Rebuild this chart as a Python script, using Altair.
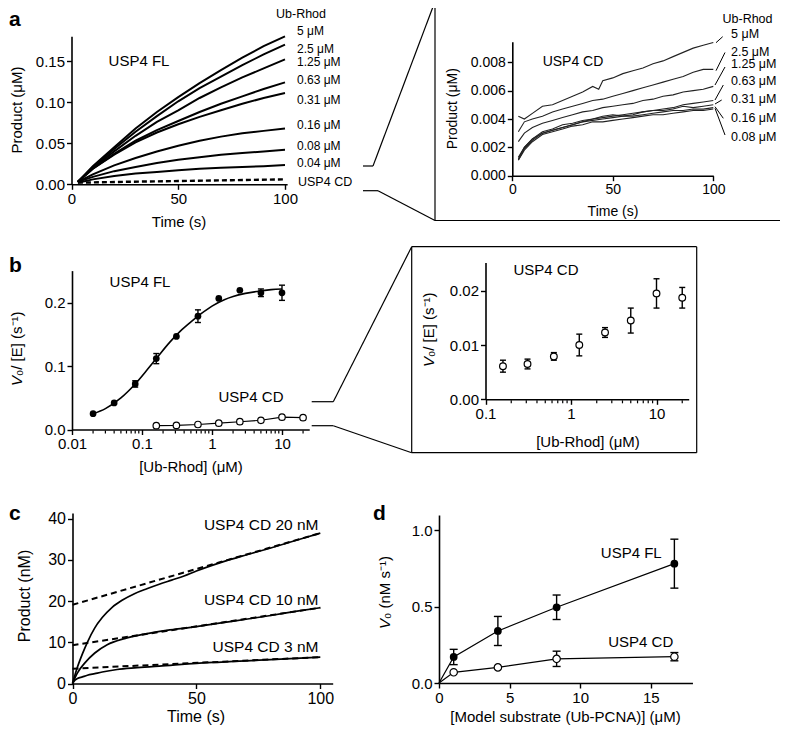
import altair as alt
import pandas as pd

W, H = 772, 717
M = 8
FONT = "Liberation Sans"


def X(p):
    return p - M


def Y(p):
    return p - M


# ---------------- data ----------------
# panel a, USP4 FL progress curves
a_time = [3, 10, 20, 30, 40, 50, 60, 70, 80, 90, 100]
a_conc = ["5 μM", "2.5 μM", "1.25 μM", "0.63 μM", "0.31 μM", "0.16 μM", "0.08 μM", "0.04 μM"]
a_fl = [
    [0.003, 0.022, 0.045, 0.068, 0.088, 0.106, 0.123, 0.139, 0.154, 0.168, 0.180],
    [0.003, 0.021, 0.043, 0.064, 0.083, 0.101, 0.117, 0.131, 0.145, 0.158, 0.170],
    [0.003, 0.020, 0.040, 0.059, 0.076, 0.090, 0.105, 0.118, 0.130, 0.141, 0.152],
    [0.003, 0.019, 0.037, 0.053, 0.066, 0.077, 0.088, 0.098, 0.107, 0.116, 0.124],
    [0.003, 0.019, 0.036, 0.051, 0.063, 0.073, 0.082, 0.090, 0.098, 0.105, 0.111],
    [0.003, 0.012, 0.023, 0.032, 0.040, 0.047, 0.053, 0.058, 0.062, 0.065, 0.068],
    [0.003, 0.009, 0.016, 0.021, 0.026, 0.030, 0.033, 0.036, 0.038, 0.040, 0.042],
    [0.002, 0.006, 0.010, 0.013, 0.015, 0.017, 0.019, 0.020, 0.021, 0.022, 0.0235],
]
a_cd_time = [3, 25, 50, 75, 100]
a_cd = [0.002, 0.003, 0.004, 0.005, 0.006]

# panel a inset, USP4 CD progress curves
ai_conc = ["5 μM", "2.5 μM", "1.25 μM", "0.63 μM", "0.31 μM", "0.16 μM", "0.08 μM"]
ai_t5 = [3, 6, 10, 15, 20, 25, 30, 35, 40, 43, 45, 50, 55, 60, 65, 70, 75, 80, 85, 90, 95, 100]
ai_v5 = [0.0042, 0.0040, 0.0044, 0.0049, 0.0050, 0.0053, 0.0056, 0.0059, 0.0063, 0.0061, 0.0067,
         0.0069, 0.0072, 0.0074, 0.0076, 0.0079, 0.0081, 0.0084, 0.0087, 0.0090, 0.0092, 0.0094]
ai_t = [3, 6, 10, 15, 20, 25, 30, 35, 40, 45, 50, 55, 60, 65, 70, 75, 80, 85, 90, 95, 100]
ai_rest = [
    [0.0031, 0.0038, 0.0040, 0.0042, 0.0045, 0.0047, 0.0049, 0.0051, 0.0053, 0.0054, 0.0056,
     0.0058, 0.0060, 0.0062, 0.0064, 0.0066, 0.0068, 0.0070, 0.0073, 0.0075, 0.0075],
    [0.0024, 0.0030, 0.0034, 0.0037, 0.0039, 0.0041, 0.0043, 0.0045, 0.0046, 0.0048, 0.0049,
     0.0050, 0.0051, 0.0053, 0.0054, 0.0056, 0.0057, 0.0059, 0.0060, 0.0061, 0.0063],
    [0.0013, 0.0020, 0.0026, 0.0030, 0.0032, 0.0034, 0.0036, 0.0038, 0.0040, 0.0041, 0.0042,
     0.0043, 0.0044, 0.0045, 0.0046, 0.0047, 0.0048, 0.0050, 0.0051, 0.0052, 0.0053],
    [0.0012, 0.0020, 0.0026, 0.0031, 0.0033, 0.0036, 0.0037, 0.0039, 0.0040, 0.0042, 0.0043,
     0.0042, 0.0043, 0.0045, 0.0046, 0.0046, 0.0047, 0.0049, 0.0048, 0.0049, 0.0050],
    [0.0011, 0.0019, 0.0025, 0.0030, 0.0032, 0.0034, 0.0036, 0.0038, 0.0039, 0.0040, 0.0041,
     0.0042, 0.0042, 0.0043, 0.0044, 0.0045, 0.0046, 0.0046, 0.0047, 0.0047, 0.0048],
    [0.0011, 0.0018, 0.0024, 0.0029, 0.0031, 0.0033, 0.0035, 0.0036, 0.0038, 0.0038, 0.0039,
     0.0040, 0.0041, 0.0042, 0.0043, 0.0043, 0.0044, 0.0045, 0.0046, 0.0046, 0.0047],
]

# panel b
b_fl_x = [0.02, 0.04, 0.08, 0.16, 0.31, 0.63, 1.25, 2.5, 5, 10]
b_fl_v = [0.025, 0.042, 0.072, 0.112, 0.147, 0.179, 0.207, 0.220, 0.216, 0.216]
b_fl_e = [0, 0, 0.005, 0.008, 0, 0.010, 0, 0, 0.006, 0.012]
b_fit_x = [0.02, 0.03, 0.05, 0.08, 0.12, 0.16, 0.25, 0.35, 0.5, 0.7, 1, 1.5, 2, 3, 5, 7, 10]
b_fit_v = [0.025, 0.033, 0.050, 0.072, 0.095, 0.112, 0.138, 0.155, 0.170, 0.183, 0.195,
           0.205, 0.210, 0.215, 0.219, 0.221, 0.222]
b_cd_x = [0.16, 0.31, 0.63, 1.25, 2.5, 5, 10, 20]
b_cd_v = [0.0061, 0.0065, 0.0079, 0.0100, 0.0123, 0.0145, 0.0195, 0.0187]
b_cd_e = [0.0011, 0.0009, 0.0007, 0.0020, 0.0009, 0.0023, 0.0027, 0.0019]
b_minor = [0.02, 0.03, 0.04, 0.05, 0.06, 0.07, 0.08, 0.09, 0.2, 0.3, 0.4, 0.5, 0.6, 0.7,
           0.8, 0.9, 2, 3, 4, 5, 6, 7, 8, 9, 20]
bi_minor = [0.2, 0.3, 0.4, 0.5, 0.6, 0.7, 0.8, 0.9, 2, 3, 4, 5, 6, 7, 8, 9, 20]

# panel c
c_labels = ["USP4 CD 20 nM", "USP4 CD 10 nM", "USP4 CD 3 nM"]
c_t20 = [0, 2, 4, 6, 9, 12, 16, 20, 25, 30, 35, 40, 45, 50, 60, 70, 80, 90, 100]
c_v20 = [0, 4.0, 7.2, 10.0, 13.5, 16.0, 18.5, 20.2, 21.8, 23.0, 24.1, 25.1, 26.1, 27.3,
         29.4, 31.2, 32.9, 34.7, 36.5]
c_t10 = [0, 2, 5, 9, 14, 21, 29, 38, 50, 60, 70, 80, 90, 100]
c_v10 = [0, 2.6, 5.0, 7.4, 9.4, 10.9, 12.0, 12.9, 13.8, 14.7, 15.6, 16.5, 17.5, 18.4]
c_t3 = [0, 1, 2, 4, 6, 9, 12, 18, 25, 35, 50, 60, 70, 80, 90, 100]
c_v3 = [0, 0.8, 1.2, 1.6, 2.0, 2.4, 2.8, 3.4, 3.8, 4.2, 4.9, 5.2, 5.5, 5.8, 6.1, 6.4]
c_fit_t = [0, 100]
c_fit20 = [19.1, 36.5]
c_fit10 = [9.3, 18.4]
c_fit3 = [3.6, 6.4]

# panel d
d_x = [1.04, 4.17, 8.33, 16.67]
d_fl = [0.17, 0.34, 0.495, 0.78]
d_fl_e = [0.05, 0.095, 0.08, 0.16]
d_cd = [0.07, 0.102, 0.158, 0.172]
d_cd_e = [0, 0, 0.05, 0.027]

# ---------------- helpers ----------------
AXS = dict(grid=False, domainColor="black", domainWidth=1.6, tickColor="black",
           tickWidth=1.4, tickSize=5, labelColor="black", labelFont=FONT,
           labelPadding=2, labelFlush=False, labelOverlap=False)


def xaxis(vals, fmt, ypix, size=15):
    return alt.Axis(orient="bottom", offset=Y(ypix) - H, values=vals, format=fmt,
                    labelFontSize=size, **AXS)


def yaxis(vals, fmt, xpix, size=15):
    return alt.Axis(orient="left", offset=-X(xpix), values=vals, format=fmt,
                    labelFontSize=size, **AXS)


def sc(domain, r0, r1, typ="linear"):
    return alt.Scale(type=typ, domain=domain, range=[r0, r1], nice=False, zero=False)


def XQ(f, s, a):
    return alt.X(f, type="quantitative", scale=s, axis=a, title=None)


def YQ(f, s, a):
    return alt.Y(f, type="quantitative", scale=s, axis=a, title=None)


DUMMY = pd.DataFrame({"k": [0]})


def txt(s, x, y, size=15, align="center", angle=0, weight="normal", style="normal"):
    return alt.Chart(pd.DataFrame({"t": [s]})).mark_text(
        font=FONT, fontSize=size, align=align, baseline="middle", angle=angle,
        fontWeight=weight, fontStyle=style, color="black"
    ).encode(x=alt.value(X(x)), y=alt.value(Y(y)), text="t:N")


def seg(x1, y1, x2, y2, w=1.2):
    return alt.Chart(DUMMY).mark_rule(color="black", strokeWidth=w).encode(
        x=alt.value(X(x1)), y=alt.value(Y(y1)), x2=alt.value(X(x2)), y2=alt.value(Y(y2)))


def errbars(df, xs, ys, xa, ya, cap=7):
    d = df[df["e"] > 0].copy()
    d["lo"] = d["v"] - d["e"]
    d["hi"] = d["v"] + d["e"]
    bar = alt.Chart(d).mark_rule(color="black", strokeWidth=1.4).encode(
        x=XQ("x", xs, xa), y=YQ("lo", ys, ya), y2="hi")
    c1 = alt.Chart(d).mark_tick(orient="horizontal", color="black", size=cap,
                                thickness=1.4, opacity=1).encode(
        x=XQ("x", xs, xa), y=YQ("hi", ys, ya))
    c2 = alt.Chart(d).mark_tick(orient="horizontal", color="black", size=cap,
                                thickness=1.4, opacity=1).encode(
        x=XQ("x", xs, xa), y=YQ("lo", ys, ya))
    return [bar, c1, c2]


def filled(df, xs, ys, xa, ya, size=45):
    return alt.Chart(df).mark_circle(color="black", size=size, opacity=1).encode(
        x=XQ("x", xs, xa), y=YQ("v", ys, ya))


def hollow(df, xs, ys, xa, ya, size=45):
    return alt.Chart(df).mark_point(shape="circle", filled=True, fill="white", stroke="black",
                                    strokeWidth=1.2, size=size, opacity=1).encode(
        x=XQ("x", xs, xa), y=YQ("v", ys, ya))


def minor_ticks(vals, xs, xa, ypix):
    return alt.Chart(pd.DataFrame({"m": vals})).mark_rule(color="black", strokeWidth=1.2).encode(
        x=XQ("m", xs, xa), y=alt.value(Y(ypix)), y2=alt.value(Y(ypix + 3)))


# ---------------- panel a ----------------
xsA = sc([0, 101], X(71.5), X(71.5 + 101 * 2.135))
ysA = sc([0, 0.18], Y(184.3), Y(184.3 - 0.18 * 822))
xaA = xaxis([0, 50, 100], "d", 184.3)
yaA = yaxis([0, 0.05, 0.1, 0.15], ".2f", 71.5)
dfA = pd.DataFrame([{"t": t, "v": v, "s": c} for c, vs in zip(a_conc, a_fl)
                    for t, v in zip(a_time, vs)])
dfAcd = pd.DataFrame({"t": a_cd_time, "v": a_cd})
panelA = alt.layer(
    alt.Chart(dfA).mark_line(color="black", strokeWidth=2).encode(
        x=XQ("t", xsA, xaA), y=YQ("v", ysA, yaA), detail="s:N"),
    alt.Chart(dfAcd).mark_line(color="black", strokeWidth=2.4, strokeDash=[5, 3]).encode(
        x=XQ("t", xsA, xaA), y=YQ("v", ysA, yaA)),
)

# ---------------- panel a inset ----------------
xsAi = sc([0, 100], X(512.3), X(713.3))
ysAi = sc([0, 0.00945], Y(175.7), Y(175.7 - 0.00945 * 14175))
xaAi = xaxis([0, 50, 100], "d", 175.7, 14)
yaAi = yaxis([0, 0.002, 0.004, 0.006, 0.008], ".3f", 512.3, 14)
rowsAi = [{"t": t, "v": v, "s": ai_conc[0]} for t, v in zip(ai_t5, ai_v5)]
for c, vs in zip(ai_conc[1:], ai_rest):
    rowsAi += [{"t": t, "v": v, "s": c} for t, v in zip(ai_t, vs)]
panelAi = alt.Chart(pd.DataFrame(rowsAi)).mark_line(color="#222222", strokeWidth=1.1).encode(
    x=XQ("t", xsAi, xaAi), y=YQ("v", ysAi, yaAi), detail="s:N")

# ---------------- panel b ----------------
xsB = sc([0.01, 24.5], X(72), X(72 + 70 * 3.389), "log")
ysB = sc([0, 0.251], Y(429.5), Y(429.5 - 0.251 * 633))
xaB = xaxis([0.01, 0.1, 1, 10], "~g", 429.5)
yaB = yaxis([0, 0.1, 0.2], ".1f", 72)
dfBfl = pd.DataFrame({"x": b_fl_x, "v": b_fl_v, "e": b_fl_e})
dfBfit = pd.DataFrame({"x": b_fit_x, "v": b_fit_v})
dfBcd = pd.DataFrame({"x": b_cd_x, "v": b_cd_v, "e": b_cd_e})
panelB = alt.layer(
    alt.Chart(dfBfit).mark_line(color="black", strokeWidth=1.6, interpolate="monotone").encode(
        x=XQ("x", xsB, xaB), y=YQ("v", ysB, yaB)),
    *errbars(dfBfl, xsB, ysB, xaB, yaB, 6),
    filled(dfBfl, xsB, ysB, xaB, yaB, 45),
    alt.Chart(dfBcd).mark_line(color="black", strokeWidth=1.1).encode(
        x=XQ("x", xsB, xaB), y=YQ("v", ysB, yaB)),
    hollow(dfBcd, xsB, ysB, xaB, yaB, 42),
    minor_ticks(b_minor, xsB, xaB, 430.5),
)

# ---------------- panel b inset ----------------
xsBi = sc([0.1, 23.8], X(485.5), X(688.7), "log")
ysBi = sc([0, 0.0252], Y(399.3), Y(399.3 - 0.0252 * 5430))
xaBi = xaxis([0.1, 1, 10], "~g", 399.3)
yaBi = yaxis([0, 0.01, 0.02], ".2f", 485.5)
panelBi = alt.layer(
    *errbars(dfBcd, xsBi, ysBi, xaBi, yaBi, 6),
    hollow(dfBcd, xsBi, ysBi, xaBi, yaBi, 45),
    minor_ticks(bi_minor, xsBi, xaBi, 400.3),
)

# ---------------- panel c ----------------
xsC = sc([0, 105], X(72.5), X(72.5 + 105 * 2.478))
ysC = sc([0, 41.4], Y(683.5), Y(683.5 - 41.4 * 4.12))
xaC = xaxis([0, 50, 100], "d", 683.5, 16)
yaC = yaxis([0, 10, 20, 30, 40], "d", 72.5, 16)
dfCs = pd.DataFrame(
    [{"t": t, "v": v, "s": "20"} for t, v in zip(c_t20, c_v20)]
    + [{"t": t, "v": v, "s": "10"} for t, v in zip(c_t10, c_v10)]
    + [{"t": t, "v": v, "s": "3"} for t, v in zip(c_t3, c_v3)])
dfCd = pd.DataFrame(
    [{"t": t, "v": v, "s": "20"} for t, v in zip(c_fit_t, c_fit20)]
    + [{"t": t, "v": v, "s": "10"} for t, v in zip(c_fit_t, c_fit10)]
    + [{"t": t, "v": v, "s": "3"} for t, v in zip(c_fit_t, c_fit3)])
panelC = alt.layer(
    alt.Chart(dfCs).mark_line(color="black", strokeWidth=1.7, interpolate="monotone").encode(
        x=XQ("t", xsC, xaC), y=YQ("v", ysC, yaC), detail="s:N"),
    alt.Chart(dfCd).mark_line(color="black", strokeWidth=2, strokeDash=[6, 4]).encode(
        x=XQ("t", xsC, xaC), y=YQ("v", ysC, yaC), detail="s:N"),
)

# ---------------- panel d ----------------
xsD = sc([0, 17.95], X(439), X(439 + 17.95 * 14.12))
ysD = sc([0, 1.098], Y(683), Y(683 - 1.098 * 153))
xaD = xaxis([0, 5, 10, 15], "d", 683)
yaD = yaxis([0, 0.5, 1.0], ".1f", 439)
dfDfl = pd.DataFrame({"x": d_x, "v": d_fl, "e": d_fl_e})
dfDcd = pd.DataFrame({"x": d_x, "v": d_cd, "e": d_cd_e})
dfDline = pd.DataFrame(
    [{"x": 0, "v": 0, "s": "FL"}] + [{"x": x, "v": v, "s": "FL"} for x, v in zip(d_x, d_fl)]
    + [{"x": 0, "v": 0, "s": "CD"}] + [{"x": x, "v": v, "s": "CD"} for x, v in zip(d_x, d_cd)])
panelD = alt.layer(
    alt.Chart(dfDline).mark_line(color="black", strokeWidth=1.2).encode(
        x=XQ("x", xsD, xaD), y=YQ("v", ysD, yaD), detail="s:N"),
    *errbars(dfDfl, xsD, ysD, xaD, yaD, 8),
    *errbars(dfDcd, xsD, ysD, xaD, yaD, 8),
    filled(dfDfl, xsD, ysD, xaD, yaD, 60),
    hollow(dfDcd, xsD, ysD, xaD, yaD, 55),
)

# ---------------- annotations ----------------
ann = []
# panel letters
for s, x, y in [("a", 9, 20), ("b", 9, 266), ("c", 9, 514), ("d", 373, 514)]:
    ann.append(txt(s, x, y, 21, "left", weight="bold"))

# panel a
ann.append(txt("USP4 FL", 139, 61))
ann.append(txt("Ub-Rhod", 301, 13.5, 12.5))
for lab, y in zip(a_conc, [30.7, 49.3, 62.3, 80, 100, 125, 145.7, 162.7]):
    ann.append(txt(lab, 297, y, 12, "left"))
ann.append(txt("USP4 CD", 298, 181.7, 12.5, "left"))
ann.append(txt("Time (s)", 179, 222))
ann.append(txt("Product (μM)", 16.5, 110, 15, angle=270))
# connectors a
ann += [seg(363, 166, 373, 166), seg(373, 166, 435, 1.5),
        seg(363, 190.7, 378, 190.7), seg(378, 190.7, 435, 220.5)]
# inset a box
ann += [seg(435, 1.5, 786.5, 1.5), seg(786.5, 1.5, 786.5, 220.5),
        seg(786.5, 220.5, 435, 220.5), seg(435, 220.5, 435, 1.5)]
ann.append(txt("USP4 CD", 573, 62, 14))
ann.append(txt("Ub-Rhod", 747.5, 19, 12.5))
for lab, y in zip(ai_conc, [34.3, 51.7, 64.3, 80.7, 99.3, 118.3, 136.7]):
    ann.append(txt(lab, 731, y, 12.5, "left"))
for x1, y1, x2, y2 in [(716, 42.7, 722.7, 36.7), (716, 70.7, 725, 52.5), (715, 85, 725, 67),
                       (715, 100, 723.3, 85), (715, 104, 721.7, 100),
                       (715, 106.7, 723.3, 118.3), (715, 108.3, 725, 135)]:
    ann.append(seg(x1, y1, x2, y2, 1))
ann.append(txt("Time (s)", 613, 211.5, 14))
ann.append(txt("Product (μM)", 452.5, 108.7, 14, angle=270))

# panel b
ann.append(txt("USP4 FL", 140, 281.7))
ann.append(txt("USP4 CD", 251, 396.7))
ann.append(txt("[Ub-Rhod] (μM)", 191, 467))
ann.append(txt("V", 17, 386, 15, "left", angle=270, style="italic"))
ann.append(txt("₀/ [E] (s⁻¹)", 17, 376, 15, "left", angle=270))
ann += [seg(311.7, 401.7, 333.3, 401.7), seg(333.3, 401.7, 411.7, 246.7),
        seg(311.7, 425.7, 333.3, 425.7), seg(333.3, 425.7, 411.7, 452.7)]
ann += [seg(411.7, 246.7, 696.7, 246.7), seg(696.7, 246.7, 696.7, 452.7),
        seg(696.7, 452.7, 411.7, 452.7), seg(411.7, 452.7, 411.7, 246.7)]
ann.append(txt("USP4 CD", 546, 270))
ann.append(txt("[Ub-Rhod] (μM)", 588, 441.7))
ann.append(txt("V", 429, 367, 15, "left", angle=270, style="italic"))
ann.append(txt("₀/ [E] (s⁻¹)", 429, 357, 15, "left", angle=270))

# panel c
for lab, y in zip(c_labels, [525, 600, 646.7]):
    ann.append(txt(lab, 318.5, y, 15.5, "right"))
ann.append(txt("Time (s)", 196, 717, 16))
ann.append(txt("Product (nM)", 25, 596, 16, angle=270))

# panel d
ann.append(txt("USP4 FL", 661.7, 553.3, 15, "right"))
ann.append(txt("USP4 CD", 673.3, 641.7, 15, "right"))
ann.append(txt("[Model substrate (Ub-PCNA)] (μM)", 565.5, 717))
ann.append(txt("V", 385, 629, 15, "left", angle=270, style="italic"))
ann.append(txt("₀ (nM s⁻¹)", 385, 619, 15, "left", angle=270))

chart = alt.layer(panelA, panelAi, panelB, panelBi, panelC, panelD, *ann).resolve_scale(
    x="independent", y="independent"
).properties(
    width=W, height=H, autosize=alt.AutoSizeParams(type="none"), padding=0
).configure_view(strokeWidth=0)

chart.save("out.html", embed_options={"renderer": "svg", "actions": False})
